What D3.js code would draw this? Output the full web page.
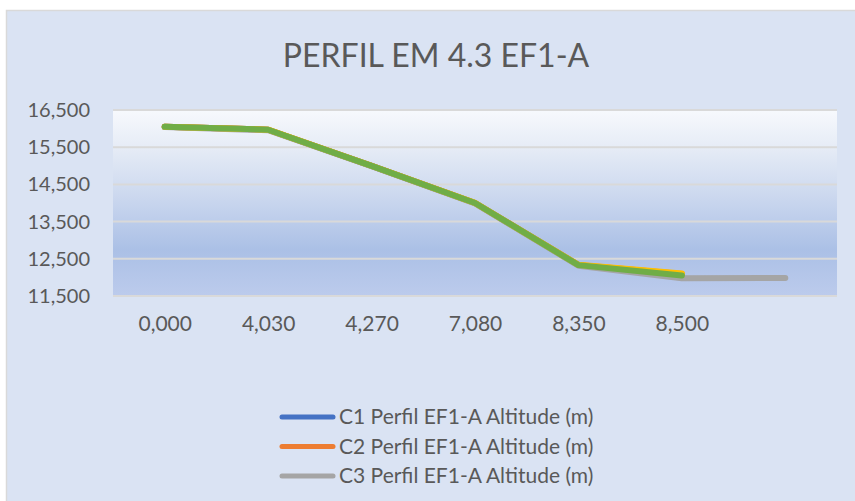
<!DOCTYPE html>
<html>
<head>
<meta charset="utf-8">
<script src="https://cdn.jsdelivr.net/npm/d3@7"></script>
<style>
  html, body { margin: 0; padding: 0; background: #ffffff; }
  svg { display: block; }
  text { font-family: Lato, "Noto Sans", sans-serif; fill: #595959; }
</style>
</head>
<body>
<svg id="chart" width="855" height="501"></svg>
<script>
// ---- data ----
const categories = ["0,000", "4,030", "4,270", "7,080", "8,350", "8,500", ""];
const yTicks = [11500, 12500, 13500, 14500, 15500, 16500];
const c1Values = [16050, 15970, 15000, 14000, 12330, 12050, null];
const c2Values = [16050, 15970, 15000, 14000, 12335, 12095, null];
const c3Values = [16040, 15955, 14990, 13990, 12315, 11975, 11985];
const c4Values = [16052, 15972, 15002, 14002, 12338, 12105, null];
const c6Values = [16050, 15970, 15000, 14000, 12330, 12050, null];
const legendNames = ["C1 Perfil EF1-A Altitude (m)", "C2 Perfil EF1-A Altitude (m)", "C3 Perfil EF1-A Altitude (m)"];
const title = "PERFIL EM 4.3 EF1-A";

// ---- layout ----
const svg = d3.select("#chart");
const plot = { left: 113, right: 837, top: 110, bottom: 296 };

// chart area
svg.append("rect").attr("x", 6.5).attr("y", 10.5).attr("width", 870).attr("height", 500)
  .attr("fill", "#dae3f3").attr("stroke", "#d9d9d9").attr("stroke-width", 1.5);

// gradient for plot area
const defs = svg.append("defs");
const grad = defs.append("linearGradient").attr("id", "pg").attr("x1", 0).attr("y1", 0).attr("x2", 0).attr("y2", 1);
[[0, "#f7f9fd"], [0.2, "#e6ecf6"], [0.45, "#cdd9ef"], [0.75, "#abc0e6"], [1, "#bccbec"]]
  .forEach(([o, c]) => grad.append("stop").attr("offset", o).attr("stop-color", c));

const x = d3.scalePoint().domain(d3.range(categories.length)).range([plot.left, plot.right]).padding(0.5);
const y = d3.scaleLinear().domain([11500, 16500]).range([plot.bottom, plot.top]);

svg.append("rect").attr("x", plot.left).attr("y", plot.top)
  .attr("width", plot.right - plot.left).attr("height", plot.bottom - plot.top)
  .attr("fill", "url(#pg)");

// gridlines
svg.append("g").selectAll("line").data(yTicks).join("line")
  .attr("x1", plot.left).attr("x2", plot.right)
  .attr("y1", d => y(d)).attr("y2", d => y(d))
  .attr("stroke", "#d9d9d9").attr("stroke-width", 2);

// y axis labels
const yAxis = d3.axisLeft(y).tickValues(yTicks).tickSize(0).tickPadding(0)
  .tickFormat(d => d3.format(",")(d));
const gy = svg.append("g").attr("transform", `translate(90,0)`).call(yAxis);
gy.select(".domain").remove();
gy.selectAll("text").attr("font-size", 20).attr("fill", "#595959")
  .style("font-family", "Lato, 'Noto Sans', sans-serif");

// x axis labels
const xAxis = d3.axisBottom(x).tickSize(0).tickPadding(0).tickFormat(i => categories[i]);
const gx = svg.append("g").attr("transform", `translate(0,316)`).call(xAxis);
gx.select(".domain").remove();
gx.selectAll("text").attr("font-size", 21).attr("fill", "#595959")
  .style("font-family", "Lato, 'Noto Sans', sans-serif");

// lines
const series = [
  { v: c1Values, color: "#4472c4" },
  { v: c2Values, color: "#ed7d31" },
  { v: c3Values, color: "#a5a5a5" },
  { v: c4Values, color: "#ffc000" },
  { v: c6Values, color: "#70ad47" }
];
const line = d3.line().defined(d => d != null).x((d, i) => x(i)).y(d => y(d));
series.forEach(s => {
  svg.append("path").datum(s.v)
    .attr("d", line)
    .attr("fill", "none").attr("stroke", s.color).attr("stroke-width", 6)
    .attr("stroke-linecap", "round").attr("stroke-linejoin", "round");
});

// title
svg.append("text").attr("x", 436).attr("y", 67).attr("text-anchor", "middle")
  .attr("font-size", 32).text(title);

// legend
const legColors = ["#4472c4", "#ed7d31", "#a5a5a5"];
const leg = svg.append("g");
legendNames.forEach((n, i) => {
  const cy = 417 + i * 29.5;
  leg.append("line").attr("x1", 282).attr("x2", 333).attr("y1", cy).attr("y2", cy)
    .attr("stroke", legColors[i]).attr("stroke-width", 5).attr("stroke-linecap", "round");
  leg.append("text").attr("x", 339).attr("y", cy).attr("dy", "0.35em")
    .attr("font-size", 21).text(n);
});
</script>
</body>
</html>
